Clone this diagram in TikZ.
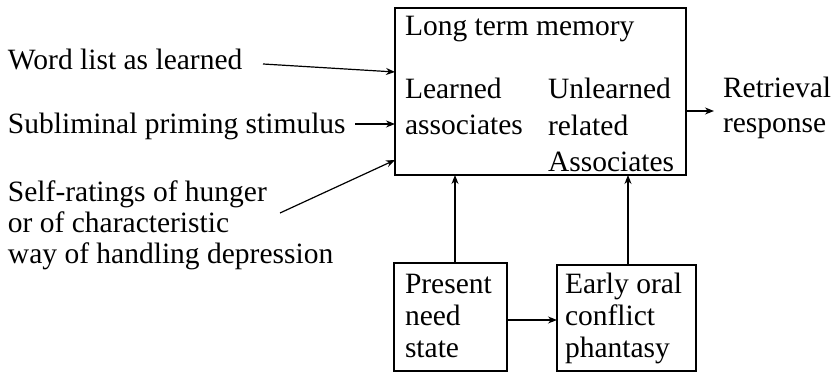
\documentclass[tikz,border=0pt]{standalone}
\usepackage{fontspec}
\setmainfont{Liberation Serif}
\usetikzlibrary{arrows.meta,calc}
\begin{document}
\begin{tikzpicture}[x=1pt,y=1pt,
  txt/.style={inner sep=0pt, outer sep=0pt, anchor=base west, align=left, font=\fontsize{29.5}{31}\selectfont},
  wide/.style={font=\fontsize{29.5}{36.5}\selectfont},
  boxst/.style={draw, line width=1.4pt, inner sep=0pt, outer sep=0pt, anchor=north west},
  arr/.style={-{Stealth[length=9pt,width=7pt]}, line width=1.2pt}]
\useasboundingbox (0,0) rectangle (831,374);
% left inputs (anchor = baseline of last line)
\node[txt] (wl) at (8,304) {Word list as learned};
\node[txt] (sub) at (8,240) {Subliminal priming stimulus};
\node[txt] (self) at (8,110) {Self-ratings of hunger\\or of characteristic\\way of handling depression};
% long term memory box
\node[boxst, minimum width=291pt, minimum height=167pt] (mem) at (395,366) {};
\node[txt] (ltm) at (405,338) {Long term memory};
\node[txt,wide] (la) at (405,239) {Learned\\associates};
\node[txt,wide] (ua) at (548,202) {Unlearned\\related\\Associates};
% output
\node[txt,font=\fontsize{29.5}{35}\selectfont] (ret) at (723,241) {Retrieval\\response};
% lower boxes
\node[boxst, minimum width=113pt, minimum height=108pt] (pres) at (394,111) {};
\node[txt,font=\fontsize{29.5}{32}\selectfont] (prest) at (405,16) {Present\\need\\state};
\node[boxst, minimum width=139pt, minimum height=106pt] (early) at (557,109) {};
\node[txt,font=\fontsize{29.5}{32}\selectfont] (earlyt) at (565,16) {Early oral\\conflict\\phantasy};
% free ends
\coordinate (wls) at (263,310);
\coordinate (subs) at (355,250);
\coordinate (selfs) at (280,161);
\coordinate (rete) at (714,263);
% connectors
\draw[arr] (wls) -- ([yshift=-64pt]mem.north west);
\draw[arr] (subs) -- (subs -| mem.west);
\draw[arr] (selfs) -- ([yshift=15pt]mem.south west);
\draw[arr] (rete -| mem.east) -- (rete);
\draw[arr] ([xshift=4.5pt]pres.north) -- ([xshift=4.5pt]pres.north |- mem.south);
\draw[arr] ([xshift=1.5pt]early.north) -- ([xshift=1.5pt]early.north |- mem.south);
\draw[arr] ([yshift=-3pt]pres.east) -- ([yshift=-3pt]pres.east -| early.west);
\end{tikzpicture}
\end{document}
